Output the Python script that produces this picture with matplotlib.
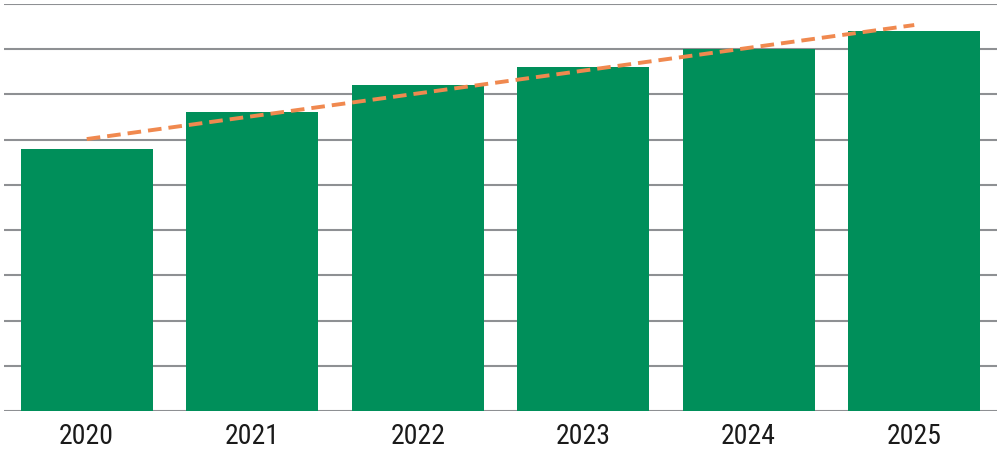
import numpy as np
import matplotlib.pyplot as plt

# values (grid step = 1 unit, no y labels shown)
years = ["2020", "2021", "2022", "2023", "2024", "2025"]
values = [5.80, 6.61, 7.21, 7.61, 8.01, 8.41]

BAR_COLOR = "#008f5a"
TREND_COLOR = "#f0894f"
GRID_COLOR = "#8e9093"

plt.rcParams["font.family"] = ["Roboto Condensed", "Liberation Sans Narrow",
                               "DejaVu Sans Condensed", "Roboto", "DejaVu Sans"]

fig = plt.figure(figsize=(10, 4.5), dpi=100)
ax = fig.add_axes([0.004, 0.0867, 0.993, 0.9043])

x = np.arange(len(years))
ax.bar(x, values, width=0.8, color=BAR_COLOR, zorder=2)

# linear trendline through the bar values
slope, intercept = np.polyfit(x, values, 1)
trend = slope * x + intercept
ax.plot(x, trend, color=TREND_COLOR, linestyle=(0, (3.5, 1.8)), linewidth=2.8, zorder=3)

ax.set_xlim(-0.5, len(years) - 0.5)
ax.set_ylim(0, 9)
ax.set_yticks(np.arange(0, 10))
ax.yaxis.grid(True, color=GRID_COLOR, linewidth=1.5, zorder=1)
ax.set_axisbelow(True)
ax.tick_params(axis="y", left=False, labelleft=False)
ax.tick_params(axis="x", bottom=False, labelsize=20, pad=5.5, colors="#1a1a1a")
ax.set_xticks(x)
ax.set_xticklabels(years, fontstretch="condensed")
for side in ["top", "right", "left", "bottom"]:
    ax.spines[side].set_visible(False)

fig.savefig("out.png", dpi=100)
